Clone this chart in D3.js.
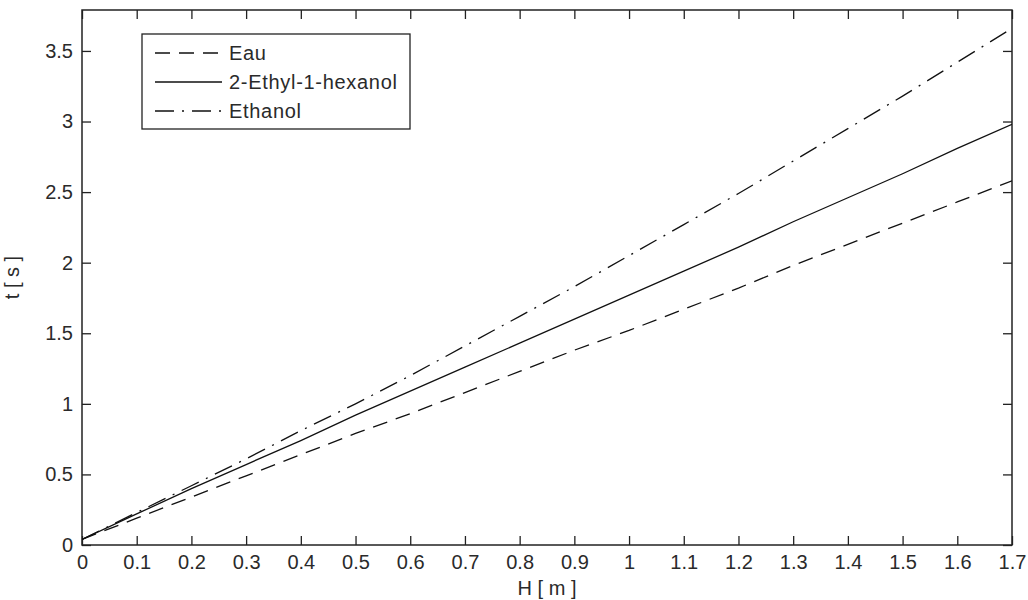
<!DOCTYPE html>
<html>
<head>
<meta charset="utf-8">
<script src="https://cdn.jsdelivr.net/npm/d3@7/dist/d3.min.js"></script>
<style>
  html, body { margin: 0; padding: 0; background: #fff; }
  svg { display: block; }
  text { font-family: "Liberation Sans", Arial, sans-serif; fill: #2a2a2a; }
</style>
</head>
<body>
<svg id="chart" width="1028" height="600"></svg>
<script>
// ---- Data ----
const H = [0, 0.1, 0.2, 0.3, 0.4, 0.5, 0.6, 0.7, 0.8, 0.9, 1.0, 1.1, 1.2, 1.3, 1.4, 1.5, 1.6, 1.7];
const eau = [0.04, 0.19, 0.34, 0.49, 0.64, 0.79, 0.93, 1.08, 1.23, 1.38, 1.52, 1.67, 1.82, 1.98, 2.13, 2.28, 2.43, 2.58];
const ethylHexanol = [0.04, 0.22, 0.40, 0.57, 0.74, 0.92, 1.09, 1.26, 1.43, 1.60, 1.77, 1.94, 2.11, 2.29, 2.46, 2.63, 2.81, 2.98];
const ethanol = [0.04, 0.23, 0.42, 0.61, 0.81, 1.00, 1.20, 1.41, 1.62, 1.83, 2.05, 2.27, 2.49, 2.72, 2.95, 3.18, 3.42, 3.66];
const seriesNames = ["Eau", "2-Ethyl-1-hexanol", "Ethanol"];
const xTicks = [0, 0.1, 0.2, 0.3, 0.4, 0.5, 0.6, 0.7, 0.8, 0.9, 1, 1.1, 1.2, 1.3, 1.4, 1.5, 1.6, 1.7];
const yTicks = [0, 0.5, 1, 1.5, 2, 2.5, 3, 3.5];
const xDomain = [0, 1.7];
const yDomain = [0, 3.79];
const xLabel = "H [ m ]";
const yLabel = "t [ s ]";

// ---- Layout ----
const svg = d3.select("#chart");
const L = 82, R = 1012, T = 10, B = 545;
const x = d3.scaleLinear().domain(xDomain).range([L, R]);
const y = d3.scaleLinear().domain(yDomain).range([B, T]);
const tickLen = 9;
const fontSize = 20;

const styles = [
  { dash: "15,9" },
  { dash: null },
  { dash: "19,8,2,8" }
];
const data = [eau, ethylHexanol, ethanol];

svg.append("defs").append("clipPath").attr("id", "clip")
  .append("rect").attr("x", L).attr("y", T).attr("width", R - L).attr("height", B - T);

function styleAxis(g) {
  g.select(".domain").remove();
  g.selectAll(".tick line").attr("stroke", "#222").attr("stroke-width", 1.3);
  g.selectAll(".tick text").attr("font-size", fontSize).attr("fill", "#2a2a2a")
    .attr("font-family", '"Liberation Sans", Arial, sans-serif');
}
const fmt = d => d3.format("~g")(d);

svg.append("g").attr("transform", `translate(0,${B})`)
  .call(d3.axisBottom(x).tickValues(xTicks).tickFormat(fmt).tickSizeInner(-tickLen).tickSizeOuter(0).tickPadding(10))
  .call(styleAxis);
svg.append("g").attr("transform", `translate(0,${T})`)
  .call(d3.axisTop(x).tickValues(xTicks).tickFormat("").tickSizeInner(-tickLen).tickSizeOuter(0))
  .call(styleAxis);
svg.append("g").attr("transform", `translate(${L},0)`)
  .call(d3.axisLeft(y).tickValues(yTicks).tickFormat(fmt).tickSizeInner(-tickLen).tickSizeOuter(0).tickPadding(9))
  .call(styleAxis);
svg.append("g").attr("transform", `translate(${R},0)`)
  .call(d3.axisRight(y).tickValues(yTicks).tickFormat("").tickSizeInner(-tickLen).tickSizeOuter(0))
  .call(styleAxis);

svg.append("rect").attr("x", L).attr("y", T).attr("width", R - L).attr("height", B - T)
  .attr("fill", "none").attr("stroke", "#222").attr("stroke-width", 1.5);

const line = d3.line().x((d, i) => x(H[i])).y(d => y(d));
const lg = svg.append("g").attr("clip-path", "url(#clip)");
data.forEach((s, k) => {
  lg.append("path").datum(s).attr("d", line)
    .attr("fill", "none").attr("stroke", "#111").attr("stroke-width", 1.3)
    .attr("stroke-dasharray", styles[k].dash);
});

svg.append("text").attr("x", (L + R) / 2).attr("y", 595).attr("text-anchor", "middle")
  .attr("font-size", fontSize).text(xLabel);
svg.append("text").attr("transform", `translate(19,${(T + B) / 2}) rotate(-90)`)
  .attr("text-anchor", "middle").attr("font-size", fontSize).text(yLabel);

const legX = 142, legY = 34, legW = 268, legH = 95;
const legend = svg.append("g");
legend.append("rect").attr("x", legX).attr("y", legY).attr("width", legW).attr("height", legH)
  .attr("fill", "#fff").attr("stroke", "#222").attr("stroke-width", 1.3);
const rowY = [53, 82, 111];
seriesNames.forEach((name, k) => {
  legend.append("line").attr("x1", 155).attr("x2", 222).attr("y1", rowY[k]).attr("y2", rowY[k])
    .attr("stroke", "#111").attr("stroke-width", 1.3).attr("stroke-dasharray", styles[k].dash);
  legend.append("text").attr("x", 229).attr("y", rowY[k]).attr("dy", "0.35em")
    .attr("font-size", fontSize).attr("letter-spacing", 0.7).text(name);
});
</script>
</body>
</html>
